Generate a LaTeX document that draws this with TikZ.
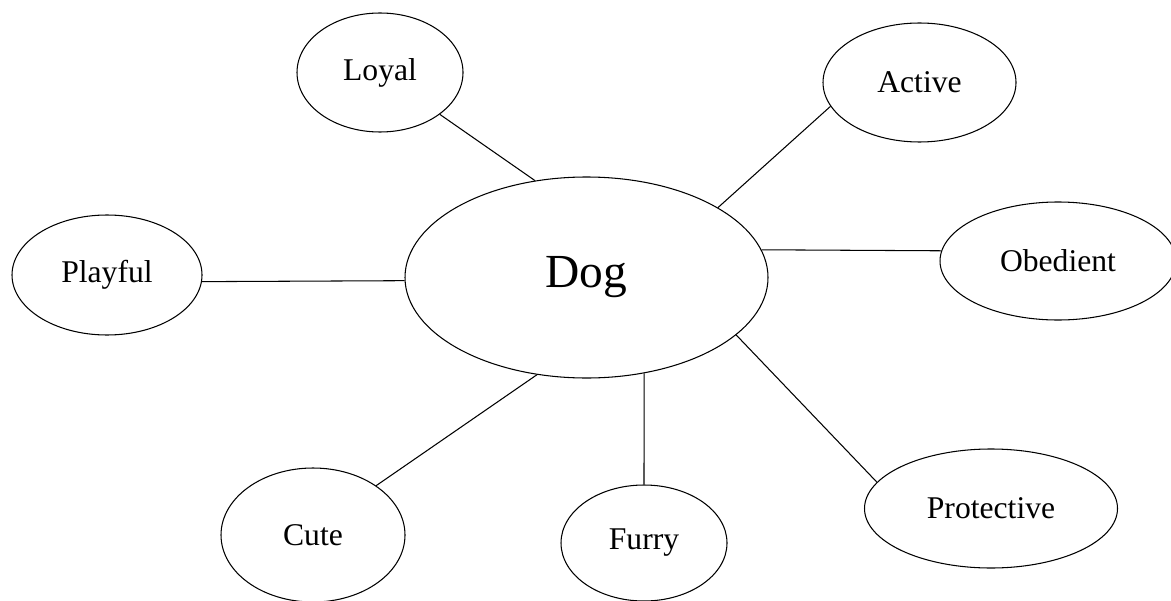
\documentclass[tikz,border=0pt]{standalone}
\usepackage{fontspec}
\setmainfont{Liberation Serif}
\usepackage{tikz}
\usetikzlibrary{
    shapes.geometric
}

\begin{document}
\begin{tikzpicture}[
    trait/.style={draw, ellipse, line width=0.6pt, inner sep=0pt, minimum width=3.6cm, minimum height=2.38cm, font=\fontsize{18}{22}\selectfont},
    hub/.style={draw, ellipse, line width=0.6pt, inner sep=0pt, minimum width=7.26cm, minimum height=4.02cm, font=\fontsize{27}{32}\selectfont},
    link/.style={line width=0.6pt}
]
    % Page
    \useasboundingbox (0,0) rectangle (23.42,12);

    % Centre
    \node[hub] (dog) at (11.73,6.45) {Dog};

    % Traits
    \node[trait, minimum width=3.32cm] (loyal) at (7.60,10.55) {Loyal};
    \node[trait, minimum width=3.86cm] (active) at (18.39,10.35) {Active};
    \node[trait, minimum width=3.80cm, minimum height=2.40cm] (playful) at (2.14,6.50) {Playful};
    \node[trait, minimum width=4.72cm, minimum height=2.36cm] (obedient) at (21.16,6.78) {Obedient};
    \node[trait, minimum width=3.68cm, minimum height=2.68cm] (cute) at (6.26,1.30) {Cute};
    \node[trait, minimum width=3.32cm, minimum height=2.32cm] (furry) at (12.88,1.14) {Furry};
    \node[trait, minimum width=5.06cm] (protective) at (19.82,1.83) {Protective};

    % Links
    \draw[link] (dog.118.5) -- (loyal.-35.3);
    \draw[link] (dog.28.6) -- (active.195.3);
    \draw[link] (dog.181.4) -- (playful.-4);
    \draw[link] (dog.9.6) -- (obedient.175.6);
    \draw[link] (dog.243.1) -- (cute.38.1);
    \draw[link] (dog.301.1) -- (furry.north);
    \draw[link] (dog.-21.4) -- (protective.167.4);
\end{tikzpicture}
\end{document}
